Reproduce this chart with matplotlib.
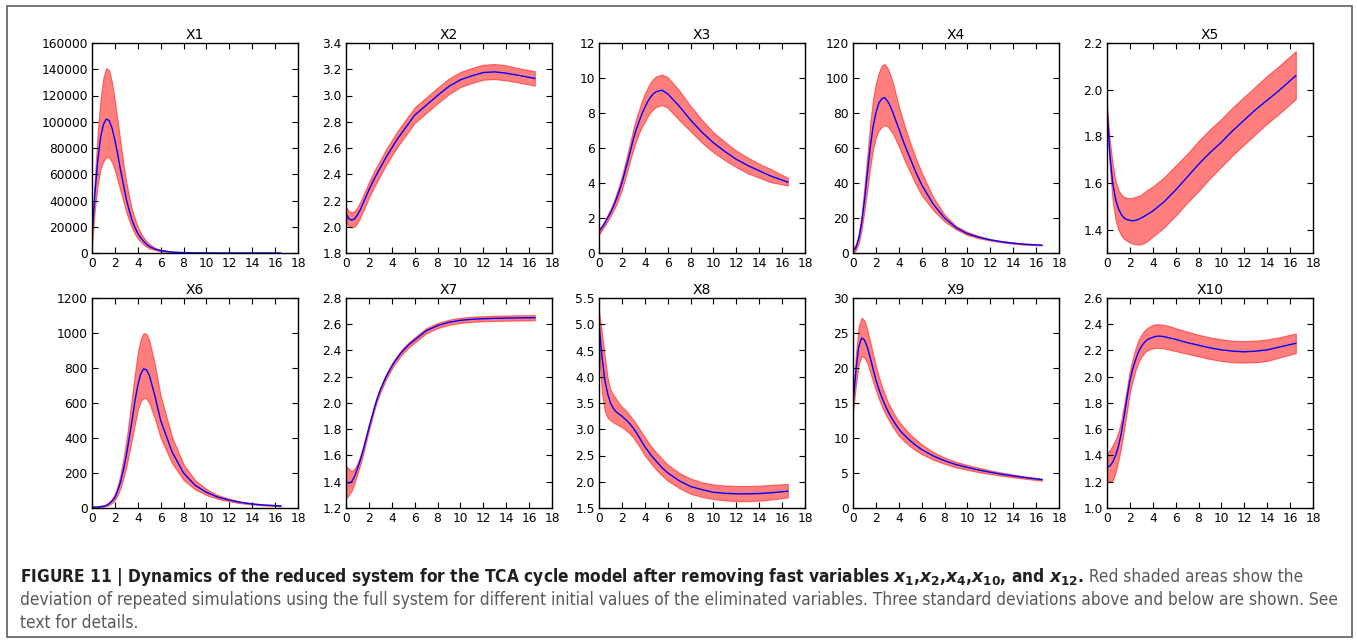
import numpy as np
import matplotlib
matplotlib.use("Agg")
import matplotlib.pyplot as plt
from matplotlib.ticker import FormatStrFormatter, ScalarFormatter, MultipleLocator
from matplotlib.patches import Rectangle
from matplotlib.font_manager import FontProperties

# ---------------- data ----------------
t = [0, 0.25, 0.5, 0.75, 1, 1.25, 1.5, 1.75, 2, 2.25, 2.5, 2.75, 3, 3.25, 3.5, 3.75, 4,
     4.25, 4.5, 4.75, 5, 5.5, 6, 7, 8, 9, 10, 11, 12, 13, 14, 15, 16.5]

x1_mean = [12e3, 45e3, 70e3, 88e3, 98e3, 102e3, 101e3, 95e3, 86e3, 75e3, 63e3, 52e3, 41e3, 32.5e3, 25e3, 19.5e3, 15e3,
           11.8e3, 9e3, 6.8e3, 5e3, 3e3, 1.8e3, 700, 300, 100, 50, 0, 0, 0, 0, 0, 0]
x1_up = [20e3, 58e3, 92e3, 118e3, 134e3, 141e3, 139e3, 130e3, 116e3, 100e3, 84e3, 68e3, 54e3, 43e3, 33e3, 26e3, 20e3,
         15.5e3, 12e3, 9.2e3, 7e3, 4e3, 2.5e3, 1000, 400, 150, 70, 0, 0, 0, 0, 0, 0]
x1_lo = [5e3, 33e3, 52e3, 64e3, 70e3, 73e3, 73e3, 69e3, 63e3, 55e3, 47e3, 39e3, 31e3, 24.5e3, 19e3, 14.5e3, 11e3,
         8.5e3, 6.5e3, 4.8e3, 3.5e3, 2.2e3, 1.2e3, 500, 200, 70, 30, 0, 0, 0, 0, 0, 0]

x2_mean = [2.10, 2.06, 2.05, 2.06, 2.09, 2.13, 2.18, 2.23, 2.28, 2.325, 2.37, 2.41, 2.45, 2.49, 2.53, 2.565, 2.60,
           2.635, 2.67, 2.70, 2.73, 2.79, 2.85, 2.925, 3.00, 3.07, 3.12, 3.15, 3.175, 3.18, 3.17, 3.155, 3.13]
x2_up = [2.15, 2.12, 2.11, 2.12, 2.15, 2.19, 2.24, 2.29, 2.34, 2.385, 2.43, 2.47, 2.51, 2.55, 2.59, 2.625, 2.66,
         2.695, 2.73, 2.76, 2.79, 2.85, 2.91, 2.985, 3.06, 3.13, 3.18, 3.21, 3.235, 3.24, 3.23, 3.21, 3.185]
x2_lo = [2.04, 2.00, 1.995, 2.00, 2.03, 2.07, 2.12, 2.17, 2.22, 2.265, 2.31, 2.35, 2.39, 2.43, 2.47, 2.505, 2.54,
         2.575, 2.61, 2.64, 2.67, 2.73, 2.79, 2.865, 2.94, 3.01, 3.065, 3.095, 3.12, 3.125, 3.115, 3.10, 3.075]

x3_mean = [1.25, 1.45, 1.7, 2.0, 2.3, 2.65, 3.05, 3.5, 4.0, 4.6, 5.2, 5.85, 6.5, 7.05, 7.5, 7.95, 8.3,
           8.65, 8.9, 9.1, 9.22, 9.3, 9.1, 8.4, 7.6, 6.9, 6.3, 5.8, 5.35, 5.0, 4.7, 4.4, 4.05]
x3_up = [1.35, 1.58, 1.85, 2.18, 2.5, 2.9, 3.35, 3.85, 4.4, 5.05, 5.7, 6.4, 7.1, 7.7, 8.2, 8.7, 9.1,
         9.45, 9.75, 9.95, 10.1, 10.2, 10.05, 9.3, 8.4, 7.6, 6.9, 6.35, 5.85, 5.45, 5.1, 4.8, 4.3]
x3_lo = [1.05, 1.3, 1.55, 1.82, 2.1, 2.4, 2.75, 3.15, 3.6, 4.15, 4.75, 5.35, 5.9, 6.4, 6.85, 7.2, 7.5,
         7.8, 8.05, 8.22, 8.35, 8.45, 8.3, 7.6, 6.95, 6.3, 5.75, 5.3, 4.9, 4.55, 4.3, 4.05, 3.85]

x4_mean = [1, 3, 8, 17, 30, 45, 60, 72, 80, 85.5, 88, 88.8, 87, 84, 80, 75.5, 71,
           66.5, 62, 58, 54, 46, 39, 28, 20, 14.5, 11, 9, 7.5, 6.4, 5.6, 5, 4.5]
x4_up = [3, 5, 11, 22, 38, 56, 74, 88, 97, 103, 107, 108, 106, 102, 97, 90.5, 84,
         78.5, 73, 68, 63, 54, 46, 32, 22, 15.5, 12, 9.7, 8, 6.8, 6, 5.3, 4.8]
x4_lo = [0, 1.5, 5.5, 13, 24, 36, 49, 59, 66, 70, 72, 73, 72.5, 70.5, 68, 64.5, 61,
         57, 53, 49.5, 46, 39, 33, 24.5, 18, 13.5, 10.2, 8.4, 7.1, 6.1, 5.3, 4.7, 4.3]

x5_mean = [1.92, 1.72, 1.60, 1.53, 1.49, 1.465, 1.45, 1.443, 1.44, 1.438, 1.44, 1.444, 1.45, 1.457, 1.465, 1.472, 1.48,
           1.49, 1.50, 1.51, 1.52, 1.545, 1.57, 1.625, 1.68, 1.73, 1.775, 1.825, 1.87, 1.915, 1.955, 1.995, 2.06]
x5_up = [1.93, 1.78, 1.68, 1.61, 1.57, 1.55, 1.54, 1.536, 1.535, 1.537, 1.54, 1.545, 1.55, 1.56, 1.57, 1.577, 1.585,
         1.595, 1.605, 1.615, 1.625, 1.65, 1.675, 1.725, 1.78, 1.83, 1.875, 1.925, 1.97, 2.015, 2.06, 2.10, 2.165]
x5_lo = [1.91, 1.66, 1.52, 1.44, 1.40, 1.375, 1.36, 1.352, 1.345, 1.34, 1.337, 1.336, 1.337, 1.343, 1.35, 1.36, 1.37,
         1.38, 1.39, 1.40, 1.41, 1.435, 1.46, 1.515, 1.565, 1.62, 1.67, 1.72, 1.765, 1.81, 1.855, 1.895, 1.96]

x6_mean = [5, 5, 6, 8, 10, 15, 25, 40, 60, 100, 150, 220, 300, 400, 500, 610, 700,
           765, 795, 790, 760, 640, 500, 320, 200, 130, 90, 62, 45, 32, 23, 17, 12]
x6_up = [8, 7, 8, 11, 14, 20, 33, 52, 80, 130, 195, 285, 385, 510, 640, 770, 890,
         965, 1000, 995, 960, 820, 640, 405, 250, 160, 108, 74, 53, 37, 27, 20, 14]
x6_lo = [3, 3, 4, 6, 7, 11, 18, 29, 45, 75, 115, 170, 235, 315, 395, 480, 560,
         610, 627, 625, 600, 510, 400, 255, 160, 106, 74, 52, 38, 27, 20, 14.5, 10]

x7_mean = [1.40, 1.39, 1.40, 1.44, 1.50, 1.565, 1.64, 1.725, 1.81, 1.89, 1.97, 2.04, 2.10, 2.15, 2.20, 2.24, 2.28,
           2.315, 2.345, 2.375, 2.40, 2.445, 2.48, 2.55, 2.59, 2.615, 2.63, 2.638, 2.642, 2.645, 2.647, 2.648, 2.65]
x7_up = [1.52, 1.50, 1.48, 1.50, 1.54, 1.60, 1.67, 1.75, 1.835, 1.91, 1.99, 2.06, 2.12, 2.17, 2.22, 2.26, 2.30,
         2.335, 2.365, 2.395, 2.42, 2.465, 2.50, 2.57, 2.61, 2.635, 2.65, 2.658, 2.662, 2.665, 2.667, 2.668, 2.67]
x7_lo = [1.27, 1.30, 1.33, 1.39, 1.46, 1.53, 1.61, 1.70, 1.785, 1.87, 1.95, 2.02, 2.08, 2.13, 2.18, 2.22, 2.26,
         2.295, 2.325, 2.355, 2.38, 2.425, 2.46, 2.53, 2.57, 2.595, 2.61, 2.618, 2.622, 2.625, 2.627, 2.628, 2.63]

x8_mean = [5.0, 4.4, 3.95, 3.68, 3.5, 3.4, 3.33, 3.29, 3.25, 3.2, 3.15, 3.09, 3.02, 2.94, 2.85, 2.76, 2.67,
           2.595, 2.52, 2.455, 2.39, 2.27, 2.17, 2.02, 1.91, 1.85, 1.80, 1.78, 1.77, 1.77, 1.775, 1.79, 1.82]
x8_up = [5.25, 4.85, 4.4, 3.98, 3.75, 3.66, 3.58, 3.5, 3.43, 3.38, 3.32, 3.25, 3.18, 3.10, 3.02, 2.935, 2.85,
         2.77, 2.69, 2.625, 2.56, 2.44, 2.33, 2.17, 2.06, 1.99, 1.95, 1.93, 1.92, 1.92, 1.925, 1.94, 1.96]
x8_lo = [4.5, 3.7, 3.35, 3.22, 3.17, 3.13, 3.1, 3.07, 3.04, 3.0, 2.95, 2.9, 2.84, 2.76, 2.68, 2.59, 2.5,
         2.43, 2.36, 2.295, 2.23, 2.12, 2.02, 1.88, 1.77, 1.71, 1.67, 1.645, 1.63, 1.63, 1.64, 1.66, 1.70]

x9_mean = [14.7, 19.5, 23, 24.3, 24.0, 23, 21.5, 19.9, 18.3, 17.0, 15.9, 14.9, 14.0, 13.2, 12.5, 11.9, 11.3,
           10.8, 10.4, 10.0, 9.6, 8.95, 8.35, 7.45, 6.75, 6.2, 5.8, 5.42, 5.1, 4.82, 4.58, 4.35, 4.05]
x9_up = [16, 22, 26, 27.2, 26.8, 25.5, 23.8, 22.0, 20.3, 18.8, 17.5, 16.4, 15.3, 14.5, 13.7, 13.0, 12.4,
         11.9, 11.4, 10.95, 10.5, 9.8, 9.1, 8.0, 7.2, 6.6, 6.15, 5.75, 5.38, 5.05, 4.78, 4.52, 4.2]
x9_lo = [13.5, 17.5, 20.5, 21.7, 21.5, 20.7, 19.4, 18.0, 16.8, 15.6, 14.6, 13.7, 12.9, 12.2, 11.5, 10.9, 10.3,
         9.9, 9.5, 9.15, 8.8, 8.2, 7.7, 6.9, 6.3, 5.8, 5.45, 5.1, 4.85, 4.6, 4.38, 4.18, 3.9]

x10_mean = [1.31, 1.32, 1.35, 1.40, 1.47, 1.57, 1.70, 1.84, 1.97, 2.06, 2.13, 2.19, 2.23, 2.26, 2.28, 2.292, 2.30,
            2.307, 2.31, 2.308, 2.305, 2.295, 2.285, 2.26, 2.24, 2.22, 2.205, 2.195, 2.19, 2.195, 2.205, 2.225, 2.255]
x10_up = [1.42, 1.44, 1.48, 1.52, 1.58, 1.67, 1.79, 1.92, 2.05, 2.14, 2.22, 2.28, 2.32, 2.35, 2.37, 2.385, 2.395,
          2.40, 2.40, 2.398, 2.395, 2.385, 2.37, 2.345, 2.32, 2.30, 2.285, 2.275, 2.272, 2.275, 2.285, 2.30, 2.33]
x10_lo = [1.22, 1.20, 1.21, 1.27, 1.36, 1.47, 1.60, 1.74, 1.88, 1.97, 2.05, 2.11, 2.15, 2.18, 2.20, 2.21, 2.215,
          2.22, 2.22, 2.218, 2.215, 2.205, 2.195, 2.175, 2.155, 2.135, 2.12, 2.11, 2.108, 2.11, 2.12, 2.145, 2.18]

titles = ["X1", "X2", "X3", "X4", "X5", "X6", "X7", "X8", "X9", "X10"]
means = [x1_mean, x2_mean, x3_mean, x4_mean, x5_mean, x6_mean, x7_mean, x8_mean, x9_mean, x10_mean]
uppers = [x1_up, x2_up, x3_up, x4_up, x5_up, x6_up, x7_up, x8_up, x9_up, x10_up]
lowers = [x1_lo, x2_lo, x3_lo, x4_lo, x5_lo, x6_lo, x7_lo, x8_lo, x9_lo, x10_lo]
ylims = [(0, 160000), (1.8, 3.4), (0, 12), (0, 120), (1.3, 2.2),
         (0, 1200), (1.2, 2.8), (1.5, 5.5), (0, 30), (1.0, 2.6)]
ysteps = [20000, 0.2, 2, 20, 0.2, 200, 0.2, 0.5, 5, 0.2]
yfmts = [None, "%.1f", None, None, "%.1f", None, "%.1f", "%.1f", None, "%.1f"]

caption_bold = ("FIGURE 11 | Dynamics of the reduced system for the TCA cycle model after removing fast variables "
                r"$x_1$,$x_2$,$x_4$,$x_{10}$, and $x_{12}$.")
caption_rest1 = " Red shaded areas show the"
caption_line2 = ("deviation of repeated simulations using the full system for different initial values of the "
                 "eliminated variables. Three standard deviations above and below are shown. See")
caption_line3 = "text for details."

# ---------------- figure ----------------
W, H = 1357, 644
fig = plt.figure(figsize=(W / 100, H / 100), dpi=100)
fig.patch.set_facecolor("white")
plt.rcParams["font.family"] = "DejaVu Sans"
plt.rcParams["mathtext.fontset"] = "custom"
plt.rcParams["mathtext.it"] = "DejaVu Sans:italic:bold"
plt.rcParams["mathtext.rm"] = "DejaVu Sans:bold"
plt.rcParams["mathtext.bf"] = "DejaVu Sans:bold"

col_left = [92, 346, 599, 853, 1107]
row_top = [43, 298]
aw, ah = 206, 210

for i in range(10):
    r, c = divmod(i, 5)
    ax = fig.add_axes([col_left[c] / W, (H - row_top[r] - ah) / H, aw / W, ah / H])
    ax.fill_between(t, lowers[i], uppers[i], color="red", alpha=0.5, linewidth=0.8)
    ax.plot(t, means[i], color="blue", linewidth=1.0)
    ax.set_xlim(0, 18)
    ax.set_ylim(*ylims[i])
    ax.xaxis.set_major_locator(MultipleLocator(2))
    ax.yaxis.set_major_locator(MultipleLocator(ysteps[i]))
    if yfmts[i]:
        ax.yaxis.set_major_formatter(FormatStrFormatter(yfmts[i]))
    else:
        fmt = ScalarFormatter(useOffset=False)
        fmt.set_scientific(False)
        ax.yaxis.set_major_formatter(fmt)
    ax.tick_params(direction="in", top=True, right=True, length=4, width=0.8,
                   labelsize=8.8, pad=3, colors="black")
    for s in ax.spines.values():
        s.set_linewidth(1.0)
    ax.set_title(titles[i], fontsize=10, pad=3)

# outer frame
fig.add_artist(Rectangle((7 / W, (H - 637) / H), (1352 - 7) / W, (637 - 6) / H,
                         transform=fig.transFigure, fill=False, edgecolor="#6a6a6a", linewidth=1.3))

# caption: fit font size so that the second line spans the reference width
renderer = fig.canvas.get_renderer()
fp_reg = FontProperties(family="DejaVu Sans", stretch="condensed", size=13)
probe = fig.text(0, 0, caption_line2, fontproperties=fp_reg)
wid = probe.get_window_extent(renderer=renderer).width
probe.remove()
fs = 13 * 1318 / wid
fp_reg = FontProperties(family="DejaVu Sans", stretch="condensed", size=fs)
fp_bold = FontProperties(family="DejaVu Sans", stretch="condensed", weight="bold", size=fs)

x0 = 20 / W
tb = fig.text(x0, 1 - 582 / H, caption_bold, fontproperties=fp_bold,
              va="baseline", ha="left", color="#231f20")
bb = tb.get_window_extent(renderer=renderer)
fig.text(bb.x1 / W, 1 - 582 / H, caption_rest1, fontproperties=fp_reg,
         va="baseline", ha="left", color="#58595b")
fig.text(x0, 1 - 605 / H, caption_line2, fontproperties=fp_reg,
         va="baseline", ha="left", color="#58595b")
fig.text(x0, 1 - 628 / H, caption_line3, fontproperties=fp_reg,
         va="baseline", ha="left", color="#58595b")

fig.savefig("out.png", dpi=100)
